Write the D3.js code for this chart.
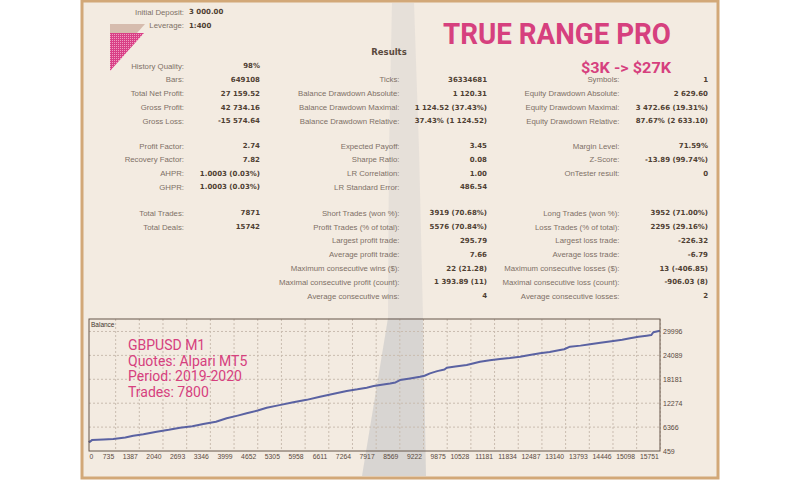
<!DOCTYPE html>
<html><head><meta charset="utf-8">
<script src="https://cdn.jsdelivr.net/npm/d3@7"></script>
<style>body{margin:0;background:#fff;} svg{display:block}</style>
</head><body><svg id="c" width="800" height="480"></svg>
<script>
// ---- Balance curve data (deal number -> balance) ----
const dealIndex = [0,20,80,400,670,1000,1221,1500,1866,2200,2509,2850,3151,3500,3796,4100,4348,4650,4899,5250,5633,6000,6368,6750,7105,7400,7656,7850,8023,8300,8450,8574,8850,9125,9250,9401,9600,9800,9862,10100,10413,10780,11050,11331,11600,11883,12150,12434,12700,12986,13100,13261,13550,13813,14100,14455,14700,14915,15150,15376,15500,15558,15742];
const balanceValues = [3000,2700,3150,3300,3430,3800,4240,4600,5230,5700,6220,6600,7130,7700,8540,9200,9780,10450,11160,11800,12500,13100,13880,14600,15290,15700,16110,16500,16770,17150,17400,18000,18400,18820,19050,19650,20200,20600,21050,21350,21720,22530,22900,23200,23450,23770,24200,24600,24900,25420,25600,26240,26500,26830,27200,27650,27950,28310,28700,28950,29100,29800,30160];
const xTickValues = [0,735,1387,2040,2693,3346,3999,4652,5305,5958,6611,7264,7917,8569,9222,9875,10528,11181,11834,12487,13140,13793,14446,15098,15751];
const yTickValues = [459,6366,12274,18181,24089,29996];
const xDomain = [0, 15742];
const yDomain = [459, 33080];

// ---- Report texts ----
const headerLabels = ["Initial Deposit:", "Leverage:"];
const headerValues = ["3 000.00", "1:400"];
const col1Labels = ["History Quality:","Bars:","Total Net Profit:","Gross Profit:","Gross Loss:","","Profit Factor:","Recovery Factor:","AHPR:","GHPR:","","Total Trades:","Total Deals:"];
const col1Values = ["98%","649108","27 159.52","42 734.16","-15 574.64","","2.74","7.82","1.0003 (0.03%)","1.0003 (0.03%)","","7871","15742"];
const col2Labels = ["","Ticks:","Balance Drawdown Absolute:","Balance Drawdown Maximal:","Balance Drawdown Relative:","","Expected Payoff:","Sharpe Ratio:","LR Correlation:","LR Standard Error:","","Short Trades (won %):","Profit Trades (% of total):","Largest profit trade:","Average profit trade:","Maximum consecutive wins ($):","Maximal consecutive profit (count):","Average consecutive wins:"];
const col2Values = ["","36334681","1 120.31","1 124.52 (37.43%)","37.43% (1 124.52)","","3.45","0.08","1.00","486.54","","3919 (70.68%)","5576 (70.84%)","295.79","7.66","22 (21.28)","1 393.89 (11)","4"];
const col3Labels = ["","Symbols:","Equity Drawdown Absolute:","Equity Drawdown Maximal:","Equity Drawdown Relative:","","Margin Level:","Z-Score:","OnTester result:","","","Long Trades (won %):","Loss Trades (% of total):","Largest loss trade:","Average loss trade:","Maximum consecutive losses ($):","Maximal consecutive loss (count):","Average consecutive losses:"];
const col3Values = ["","1","2 629.60","3 472.66 (19.31%)","87.67% (2 633.10)","","71.59%","-13.89 (99.74%)","0","","","3952 (71.00%)","2295 (29.16%)","-226.32","-6.79","13 (-406.85)","-906.03 (8)","2"];
const titleText = "TRUE RANGE PRO";
const subtitleText = "$3K -> $27K";
const resultsText = "Results";
const noteLines = ["GBPUSD M1","Quotes: Alpari MT5","Period: 2019-2020","Trades: 7800"];

const svg = d3.select("#c");
const pink = "#d6407e";

// panel
svg.append("rect").attr("x",82).attr("y",1).attr("width",636).attr("height",477)
  .attr("fill","#f3ebe1").attr("stroke","#d2a878").attr("stroke-width",3);

// faint background photo (road) decoration
svg.append("polygon").attr("points","392,3 414,3 419,150 423,318 388,318 389,150")
  .attr("fill","#cfcccb").attr("opacity",0.35);
svg.append("polygon").attr("points","388,318 423,318 426,476 362,476")
  .attr("fill","#cfcdcc").attr("opacity",0.75);

// logo
const defs = svg.append("defs");
const pat = defs.append("pattern").attr("id","dots").attr("width",2).attr("height",2).attr("patternUnits","userSpaceOnUse");
pat.append("rect").attr("width",2).attr("height",2).attr("fill","#d93f86");
pat.append("rect").attr("width",1).attr("height",1).attr("fill","#ee9cc0");
svg.append("polygon").attr("points","110,24 145,24 137,33 110,33").attr("fill","#d6bcae");
svg.append("polygon").attr("points","110,33 144,33 110,71").attr("fill","url(#dots)");

// row positions
function rowY(i){
  const starts = [66, 146, 213];
  if (i < 5) return starts[0] + i*13.7;
  if (i < 10) return starts[1] + (i-6)*13.6;
  return starts[2] + (i-11)*13.8;
}
const labelFont = "'Liberation Sans', Arial, sans-serif";
const valueFont = "'DejaVu Sans', Verdana, sans-serif";
function label(x,y,t){ svg.append("text").attr("x",x).attr("y",y).attr("dy","0.35em").attr("text-anchor","end")
  .attr("font-family",labelFont).attr("font-size",7.8).attr("fill","#7e7066").text(t); }
function value(x,y,t,anchor){ svg.append("text").attr("x",x).attr("y",y).attr("dy","0.35em").attr("text-anchor",anchor||"end")
  .attr("font-family",valueFont).attr("font-weight","bold").attr("font-size",7).attr("fill","#4f3f33").text(t); }

headerLabels.forEach((t,i)=>{ label(184, 12 + i*13.5, t); value(189, 12 + i*13.5, headerValues[i], "start"); });
svg.append("text").attr("x",389).attr("y",52).attr("dy","0.35em").attr("text-anchor","middle")
  .attr("font-family",valueFont).attr("font-weight","bold").attr("font-size",8.5).attr("fill","#5a4a3e").text(resultsText);

const cols = [
  {labels:col1Labels, values:col1Values, lx:184, vx:260},
  {labels:col2Labels, values:col2Values, lx:399.5, vx:487},
  {labels:col3Labels, values:col3Values, lx:619.5, vx:708}
];
cols.forEach(c=>{
  c.labels.forEach((t,i)=>{ if(t) label(c.lx,rowY(i),t); });
  c.values.forEach((t,i)=>{ if(t) value(c.vx,rowY(i),t); });
});

// titles
svg.append("text").attr("x",443).attr("y",44).attr("font-family","Roboto, sans-serif").attr("font-weight","bold")
  .attr("font-size",30).attr("fill",pink).attr("textLength",228).attr("lengthAdjust","spacingAndGlyphs").text(titleText);
svg.append("text").attr("x",581).attr("y",72.5).attr("font-family","Roboto, sans-serif").attr("font-weight","bold")
  .attr("font-size",15.5).attr("fill",pink).attr("textLength",90).attr("lengthAdjust","spacingAndGlyphs").text(subtitleText);

// ---- Balance chart ----
const L=89, R=660, T=319, B=451;
const x = d3.scaleLinear().domain(xDomain).range([L,R]);
const y = d3.scaleLinear().domain(yDomain).range([B,T]);
const g = svg.append("g");
g.selectAll(".vg").data(xTickValues.slice(1)).join("line")
  .attr("x1",d=>x(d)).attr("x2",d=>x(d)).attr("y1",T).attr("y2",B)
  .attr("stroke","#c9bcaf").attr("stroke-dasharray","2,2").attr("stroke-width",1);
g.selectAll(".hg").data(yTickValues.slice(1)).join("line")
  .attr("x1",L).attr("x2",R).attr("y1",d=>y(d)).attr("y2",d=>y(d))
  .attr("stroke","#c9bcaf").attr("stroke-dasharray","2,2").attr("stroke-width",1);

const pts = dealIndex.map((d,i)=>[d,balanceValues[i]]);
g.append("path").datum(pts).attr("fill","none").attr("stroke","#5a62a2").attr("stroke-width",2)
  .attr("stroke-linejoin","round")
  .attr("d", d3.line().x(d=>x(d[0])).y(d=>y(d[1])).curve(d3.curveLinear));

g.append("rect").attr("x",L).attr("y",T).attr("width",R-L).attr("height",B-T)
  .attr("fill","none").attr("stroke","#67574b").attr("stroke-width",1);

const xAxis = d3.axisBottom(x).tickValues(xTickValues).tickSize(0).tickPadding(0).tickFormat(d=>String(d));
const xa = svg.append("g").attr("transform",`translate(0,${B+4})`).call(xAxis);
xa.select(".domain").remove();
xa.selectAll("text").attr("font-family",labelFont).attr("font-size",6.8).attr("fill","#5a4a3e")
  .attr("text-anchor",d=>d===0?"start":"end").attr("dx",d=>d===0?"0":"-2").attr("dy","0.6em");
const yAxis = d3.axisRight(y).tickValues(yTickValues).tickSize(0).tickPadding(3).tickFormat(d=>String(d));
const ya = svg.append("g").attr("transform",`translate(${R},0)`).call(yAxis);
ya.select(".domain").remove();
ya.selectAll("text").attr("font-family",labelFont).attr("font-size",7).attr("fill","#5a4a3e");

svg.append("text").attr("x",91).attr("y",324.5).attr("dy","0.35em").attr("font-family",labelFont)
  .attr("font-size",6.5).attr("fill","#3f352d").text("Balance");

noteLines.forEach((t,i)=>{
  svg.append("text").attr("x",128).attr("y",350 + i*15.5).attr("font-family","Roboto, sans-serif")
    .attr("font-size",14).attr("fill",pink).text(t);
});
</script></body></html>
